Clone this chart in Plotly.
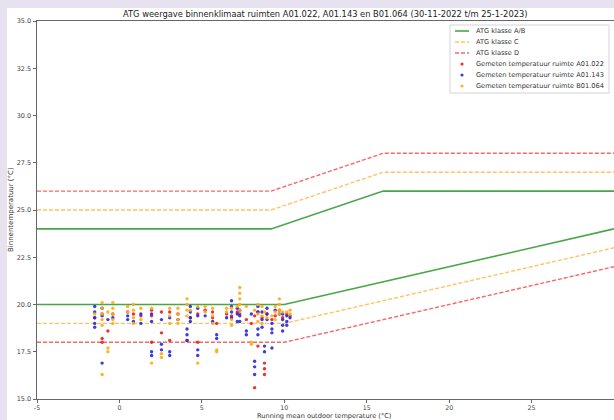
import plotly.graph_objects as go

# ATG comfort bands: upper and lower limits per class
upper_x = [-5, 9.2, 16, 30]
upper_ab = [24, 24, 26, 26]
upper_c = [25, 25, 27, 27]
upper_d = [26, 26, 28, 28]

lower_x = [-5, 10, 30]
lower_ab = [20, 20, 24]
lower_c = [19, 19, 23]
lower_d = [18, 18, 22]

# Running mean outdoor temperature per day (°C)
running_mean = [-1.5, -1.05, -0.7, -0.4, 0.5, 0.85, 1.3, 1.95, 2.55, 3.05,
                3.55, 4.1, 4.3, 4.75, 5.2, 5.65, 5.9, 6.5, 6.8, 7.15,
                7.3, 7.7, 8.0, 8.2, 8.4, 8.65, 8.8, 8.95, 9.25, 9.45,
                9.7, 9.9, 10.15, 10.35]

# Measured indoor temperatures per day, room A01.022
temp_a01_022 = [[19.3], [18.2, 18.0, 19.5], [18.6], [19.5], [19.6], [19.5], [19.4],
                [19.7, 19.4, 18.0], [18.5, 19.6], [18.1, 19.6], [19.5], [18.1], [19.3],
                [18.0, 19.5], [19.7], [19.6, 19.3], [19.0], [19.5], [19.4], [19.6],
                [19.5], [19.2], [19.0], [15.6, 19.4], [17.8, 19.6], [19.3],
                [16.9, 16.6, 16.3], [19.5], [19.2], [19.4], [19.7], [19.3], [19.5], [19.4]]

# Measured indoor temperatures per day, room A01.143
temp_a01_143 = [[19.9, 19.6, 19.3, 19.0, 18.8], [19.8, 19.4, 16.9], [19.2], [19.3],
                [19.4, 19.2], [19.1], [19.5, 19.0], [19.5, 19.1, 17.5, 17.3],
                [17.9, 17.6, 19.2], [17.5, 17.3, 19.3], [19.2], [18.7, 18.4, 18.1],
                [19.9, 19.6, 19.3, 19.1], [19.8, 19.4, 17.6, 17.3], [19.4], [19.1],
                [18.4, 18.2], [19.3], [20.2, 19.9, 19.6, 19.3], [19.8, 19.5, 19.1],
                [19.7, 19.4, 19.1], [18.6, 18.4], [19.5], [17.0, 16.7, 16.3],
                [19.9, 19.6, 18.7, 18.4], [19.6, 19.2, 18.8], [17.8, 17.5],
                [19.8, 19.5, 19.2], [19.0, 18.7, 18.5, 17.7], [19.7], [19.5],
                [19.5, 19.2, 18.9, 18.6], [19.4, 19.1, 18.9], [19.3]]

# Measured indoor temperatures per day, room B01.064
temp_b01_064 = [[19.5], [20.1, 19.8, 19.5, 19.2, 18.9, 16.3], [17.7, 17.5, 19.6],
                [20.1, 19.8, 19.5, 19.2, 19.0], [19.9, 19.6], [20.0, 19.7, 19.3, 19.0],
                [19.8, 19.2], [19.8, 16.9], [17.4, 17.2], [19.8, 19.4, 19.0],
                [19.8, 19.5, 19.2, 19.0], [20.3, 20.0, 19.7, 19.4], [19.7],
                [19.9, 16.9], [19.9, 19.6], [19.8, 19.4, 19.0], [17.6, 17.5],
                [19.8, 19.6], [19.8, 19.2, 18.9], [19.9], [20.9, 20.6, 20.3, 20.0, 19.7],
                [19.9], [18.0, 17.9], [19.7], [20.0, 19.5, 19.1], [19.9, 19.4, 19.0],
                [19.6], [19.3], [19.4], [19.9, 19.6, 19.2], [20.3, 20.0, 19.7, 19.5],
                [19.6], [19.6], [19.7, 19.5]]

x_ticks = [-5, 0, 5, 10, 15, 20, 25, 30]
y_ticks = [15.0, 17.5, 20.0, 22.5, 25.0, 27.5, 30.0, 32.5, 35.0]

title_text = "ATG weergave binnenklimaat ruimten A01.022, A01.143 en B01.064 (30-11-2022 t/m 25-1-2023)"
x_title = "Running mean outdoor temperature (°C)"
y_title = "Binnentemperatuur (°C)"

room_labels = ["Gemeten temperatuur ruimte A01.022",
               "Gemeten temperatuur ruimte A01.143",
               "Gemeten temperatuur ruimte B01.064"]
class_labels = ["ATG klasse A/B", "ATG klasse C", "ATG klasse D"]

GREEN = "rgba(40,150,40,0.85)"
ORANGE = "rgba(255,170,30,0.7)"
RED = "rgba(240,40,40,0.7)"
ROOM_COLORS = ["rgba(235,30,30,0.9)", "rgba(40,40,220,0.9)", "rgba(255,170,20,0.9)"]

FONT = "DejaVu Sans"
W, H = 614, 420
L, R, T, B = 37, 0, 21, 21
PW, PH = W - L - R, H - T - B


def px_x(px):
    return (px - L) / PW


def px_y(py):
    return 1 - (py - T) / PH


fig = go.Figure()

bands = [(upper_ab, lower_ab, GREEN, "solid", 1.6),
         (upper_c, lower_c, ORANGE, "4px,2px", 1.4),
         (upper_d, lower_d, RED, "4px,2px", 1.4)]
for up, low, col, dash, w in bands:
    fig.add_trace(go.Scatter(x=upper_x, y=up, mode="lines",
                             line=dict(color=col, dash=dash, width=w),
                             showlegend=False, hoverinfo="skip"))
    fig.add_trace(go.Scatter(x=lower_x, y=low, mode="lines",
                             line=dict(color=col, dash=dash, width=w),
                             showlegend=False, hoverinfo="skip"))

for temps, col in zip([temp_a01_022, temp_a01_143, temp_b01_064], ROOM_COLORS):
    xs, ys = [], []
    for rm, day in zip(running_mean, temps):
        for t in day:
            xs.append(rm)
            ys.append(t)
    fig.add_trace(go.Scatter(x=xs, y=ys, mode="markers",
                             marker=dict(color=col, size=3.4, line=dict(width=0)),
                             showlegend=False))

shapes = [
    # white figure area on the lavender page background
    dict(type="rect", xref="paper", yref="paper",
         x0=px_x(7), x1=px_x(640), y0=px_y(440), y1=px_y(8),
         fillcolor="white", line=dict(width=0), layer="below"),
    # legend frame
    dict(type="rect", xref="paper", yref="paper",
         x0=px_x(450), x1=px_x(609), y0=px_y(93), y1=px_y(25),
         fillcolor="rgba(255,255,255,0.85)", line=dict(color="#d4d4d4", width=1),
         layer="above"),
]
annotations = []

legend_rows = [31, 42, 53, 64, 75, 86]
line_styles = [(GREEN, "solid", 1.6), (ORANGE, "4px,2px", 1.4), (RED, "4px,2px", 1.4)]
for i, (lab, (col, dash, w)) in enumerate(zip(class_labels, line_styles)):
    yy = px_y(legend_rows[i])
    shapes.append(dict(type="line", xref="paper", yref="paper",
                       x0=px_x(455), x1=px_x(469), y0=yy, y1=yy,
                       line=dict(color=col, dash=dash, width=w), layer="above"))
    annotations.append(dict(text=lab, x=px_x(474), y=yy, xref="paper", yref="paper",
                            xanchor="left", yanchor="middle", showarrow=False,
                            font=dict(family=FONT, size=6.6, color="#333")))
for j, (lab, col) in enumerate(zip(room_labels, ROOM_COLORS)):
    yy = px_y(legend_rows[3 + j])
    shapes.append(dict(type="circle", xref="paper", yref="paper",
                       xsizemode="pixel", ysizemode="pixel",
                       xanchor=px_x(462), yanchor=yy,
                       x0=-1.6, x1=1.6, y0=-1.6, y1=1.6,
                       fillcolor=col, line=dict(width=0), layer="above"))
    annotations.append(dict(text=lab, x=px_x(474), y=yy, xref="paper", yref="paper",
                            xanchor="left", yanchor="middle", showarrow=False,
                            font=dict(family=FONT, size=6.6, color="#333")))

annotations += [
    dict(text=title_text, x=px_x(325), y=px_y(14), xref="paper", yref="paper",
         xanchor="center", yanchor="middle", showarrow=False,
         font=dict(family=FONT, size=8.3, color="#222")),
    dict(text=x_title, x=px_x(324), y=px_y(415.5), xref="paper", yref="paper",
         xanchor="center", yanchor="middle", showarrow=False,
         font=dict(family=FONT, size=6.6, color="#333")),
    dict(text=y_title, x=px_x(11), y=px_y(210), xref="paper", yref="paper",
         xanchor="center", yanchor="middle", showarrow=False, textangle=-90,
         font=dict(family=FONT, size=7, color="#333")),
]

fig.update_layout(
    width=W, height=H,
    margin=dict(l=L, r=R, t=T, b=B, pad=0),
    paper_bgcolor="#e7e2ef",
    plot_bgcolor="white",
    showlegend=False,
    shapes=shapes,
    annotations=annotations,
    font=dict(family=FONT),
)
fig.update_xaxes(range=[-5, 30], tickvals=x_ticks, ticktext=[str(v) for v in x_ticks],
                 showline=True, mirror=True, linecolor="#666", linewidth=1,
                 ticks="outside", ticklen=2.5, tickcolor="#666", showgrid=False,
                 zeroline=False, tickfont=dict(family=FONT, size=6.3, color="#444"))
fig.update_yaxes(range=[15, 35], tickvals=y_ticks, ticktext=[f"{v:.1f}" for v in y_ticks],
                 showline=True, mirror=True, linecolor="#666", linewidth=1,
                 ticks="outside", ticklen=3.5, tickcolor="#666", showgrid=False,
                 zeroline=False, tickfont=dict(family=FONT, size=6.5, color="#444"))

fig.write_html("out.html")
